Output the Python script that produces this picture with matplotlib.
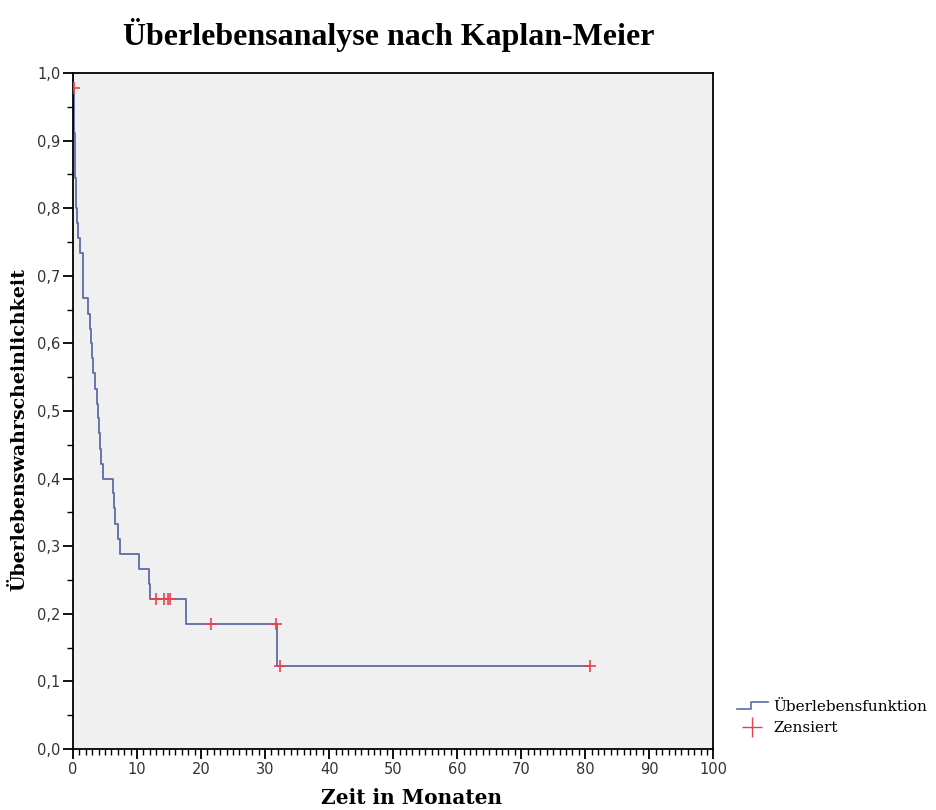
import numpy as np
import matplotlib.pyplot as plt
from matplotlib.lines import Line2D
from matplotlib.legend_handler import HandlerBase

# step changes of the Kaplan-Meier curve (time in months, survival after step)
event_times = [0.0, 0.1, 0.15, 0.2, 0.25, 0.3, 0.35, 0.4, 0.5, 0.6, 0.8, 1.1,
               1.6, 2.4, 2.6, 2.8, 3.0, 3.2, 3.4, 3.7, 3.9, 4.0, 4.2, 4.4, 4.7,
               6.2, 6.4, 6.6, 7.0, 7.4, 10.3, 11.8, 12.0, 17.7, 31.9]
survival = [0.978, 0.956, 0.933, 0.911, 0.889, 0.867, 0.844, 0.822, 0.800,
            0.778, 0.756, 0.733, 0.667, 0.644, 0.622, 0.600, 0.578, 0.556,
            0.533, 0.511, 0.489, 0.467, 0.444, 0.422, 0.400, 0.378, 0.356,
            0.333, 0.311, 0.289, 0.267, 0.244, 0.222, 0.185, 0.123]
end_time = 80.8

censor_times = [0.15, 13.0, 14.2, 14.8, 15.1, 21.6, 31.7, 32.4, 80.8]
censor_surv = [0.978, 0.222, 0.222, 0.222, 0.222, 0.185, 0.185, 0.123, 0.123]

line_col = "#5e6aa6"
cens_col = "#e8424e"
serif = ["Liberation Serif", "DejaVu Serif"]
wide_serif = ["DejaVu Serif"]

fig = plt.figure(figsize=(9.37, 8.1), dpi=100)
ax = fig.add_axes([0.0779, 0.0753, 0.6834, 0.8346])
ax.set_facecolor("#f0f0f0")

xs = [0.0] + event_times + [end_time]
ys = [1.0] + survival + [survival[-1]]
ax.step(xs, ys, where="post", color=line_col, lw=1.3)
ax.plot(censor_times, censor_surv, "+", color=cens_col, ms=9, mew=1.2, zorder=3)

ax.set_xlim(0, 100)
ax.set_ylim(0, 1.0)
ax.set_xticks(np.arange(0, 101, 10))
ax.set_xticks(np.arange(0, 101, 1), minor=True)
ax.set_yticks(np.arange(0, 1.01, 0.1))
ax.set_yticks(np.arange(0, 1.01, 0.05), minor=True)
ax.set_yticklabels([f"{v:.1f}".replace(".", ",") for v in np.arange(0, 1.01, 0.1)])
ax.tick_params(which="major", length=7, width=1.3, direction="out",
               labelsize=10.5, labelcolor="#333333", pad=2)
ax.tick_params(which="minor", length=4, width=1.0, direction="out")
for s in ax.spines.values():
    s.set_linewidth(1.3)

ax.set_xlabel("Zeit in Monaten", family=wide_serif, fontweight="bold", fontsize=14.5)
ax.set_ylabel("Überlebenswahrscheinlichkeit", family=wide_serif, fontweight="bold",
              fontsize=13.7)
ax.xaxis.set_label_coords(0.528, -0.057)
ax.yaxis.set_label_coords(-0.070, 0.472)
fig.text(0.415, 0.957, "Überlebensanalyse nach Kaplan-Meier", family=serif,
         fontweight="bold", fontsize=23, ha="center", va="center")


class StepHandler(HandlerBase):
    def create_artists(self, legend, orig, xd, yd, w, h, fontsize, trans):
        x = [xd, xd + w * 0.45, xd + w * 0.45, xd + w]
        y = [yd + h * 0.15, yd + h * 0.15, yd + h * 0.85, yd + h * 0.85]
        ln = Line2D(x, y, color=line_col, lw=1.2, transform=trans)
        return [ln]


h1 = Line2D([], [], color=line_col)
h2 = Line2D([], [], color=cens_col, marker="+", ls="none", ms=14, mew=1.0)
fig.legend([h1, h2], ["Überlebensfunktion", "Zensiert"],
           handler_map={h1: StepHandler()}, loc="lower left",
           bbox_to_anchor=(0.772, 0.075), frameon=False,
           prop={"family": wide_serif, "size": 11}, handlelength=2.0,
           handletextpad=0.4, labelspacing=0.5)

fig.savefig("out.png", dpi=100, facecolor="white")
